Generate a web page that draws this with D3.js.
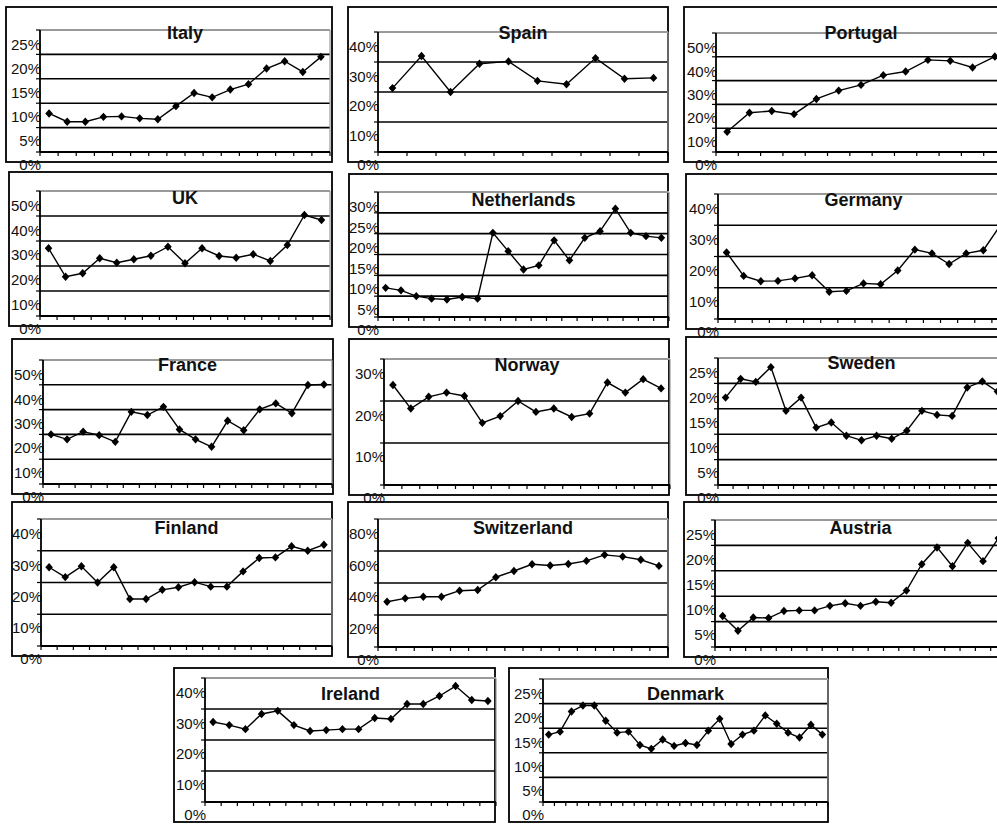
<!DOCTYPE html>
<html lang="en">
<head>
<meta charset="UTF-8">
<title>Country panels</title>
<script src="https://cdnjs.cloudflare.com/ajax/libs/d3/7.8.5/d3.min.js"></script>
<style>
  body { margin: 0; background: #fff; font-family: "Liberation Sans", Arial, sans-serif; }
  svg { display: block; }
  .title { font-size: 18px; font-weight: bold; fill: #111; }
  .lbl { font-size: 15px; fill: #111; }
</style>
</head>
<body>
<script>
// values, one array per country
const countries = ["Italy", "Spain", "Portugal", "UK", "Netherlands", "Germany", "France",
                   "Norway", "Sweden", "Finland", "Switzerland", "Austria", "Ireland", "Denmark"];
const italy = [7.9, 6.2, 6.2, 7.2, 7.3, 6.9, 6.7, 9.4, 12.1, 11.2, 12.8, 13.9, 17.1, 18.6, 16.4, 19.5];
const spain = [21.3, 32.0, 20.0, 29.4, 30.2, 23.7, 22.6, 31.3, 24.4, 24.7];
const portugal = [8.5, 16.5, 17.2, 15.9, 22.3, 25.8, 28.2, 32.3, 33.8, 38.7, 38.3, 35.5, 40.1];
const uk = [27.1, 15.7, 17.1, 23.1, 21.3, 22.7, 24.1, 27.7, 21.1, 27.1, 24.0, 23.3, 24.7, 22.0, 28.4, 40.4, 38.4];
const netherlands = [7.0, 6.4, 5.0, 4.4, 4.2, 4.8, 4.4, 20.2, 15.8, 11.4, 12.4, 18.4, 13.6, 19.0, 20.6, 26.0, 20.2, 19.4, 19.0];
const germany = [21.3, 13.8, 12.1, 12.2, 13.0, 14.0, 8.7, 9.0, 11.4, 11.1, 15.5, 22.2, 21.0, 17.6, 21.0, 22.0, 30.0];
const france = [20.0, 18.0, 21.1, 19.7, 17.0, 29.1, 27.8, 31.1, 22.0, 18.0, 15.0, 25.5, 21.7, 30.1, 32.5, 28.5, 39.9, 40.1];
const norway = [23.8, 18.2, 21.0, 22.0, 21.2, 14.8, 16.4, 20.0, 17.4, 18.2, 16.2, 17.0, 24.4, 22.0, 25.2, 23.0];
const sweden = [17.2, 20.9, 20.3, 23.2, 14.6, 17.2, 11.3, 12.3, 9.7, 8.8, 9.7, 9.1, 10.7, 14.6, 13.8, 13.6, 19.2, 20.4, 18.4];
const finland = [24.8, 21.7, 25.1, 20.0, 24.8, 14.8, 14.8, 17.7, 18.5, 20.1, 18.7, 18.7, 23.5, 27.7, 27.9, 31.4, 30.0, 31.9];
const switzerland = [28.3, 30.4, 31.4, 31.4, 35.2, 35.6, 43.6, 47.5, 51.7, 50.9, 51.9, 53.8, 57.6, 56.5, 54.5, 50.7];
const austria = [6.1, 3.2, 5.8, 5.7, 7.1, 7.2, 7.2, 8.1, 8.6, 8.1, 8.9, 8.7, 11.1, 16.3, 19.6, 15.9, 20.5, 16.9, 21.4];
const ireland = [25.8, 24.8, 23.5, 28.4, 29.4, 24.8, 22.9, 23.2, 23.5, 23.5, 27.1, 26.8, 31.6, 31.6, 34.2, 37.4, 32.9, 32.6];
const denmark = [13.7, 14.3, 18.4, 19.6, 19.6, 16.5, 14.1, 14.3, 11.6, 10.8, 12.7, 11.4, 12.0, 11.6, 14.5, 16.9, 11.8, 13.7, 14.5, 17.6, 15.9, 14.1, 13.1, 15.7, 13.7];
const series = [italy, spain, portugal, uk, netherlands, germany, france,
                norway, sweden, finland, switzerland, austria, ireland, denmark];
const axisMax = [25, 40, 50, 50, 30, 40, 50, 30, 25, 40, 80, 25, 40, 25];
const axisStep = [5, 10, 10, 10, 5, 10, 10, 10, 5, 10, 20, 5, 10, 5];

// where each little chart sits: outer box, then plot area (left, top, right, bottom)
const layout = [
    { box: [6, 7, 326, 155],   plot: [40, 30, 330, 152] },
    { box: [348, 7, 320, 155], plot: [378, 32, 668, 152] },
    { box: [684, 7, 330, 155], plot: [716, 33, 1006, 152] },
    { box: [9, 172, 323, 154], plot: [40, 191, 330, 316] },
    { box: [349, 174, 319, 153], plot: [378, 192, 669, 317] },
    { box: [686, 174, 330, 155], plot: [718, 194, 1009, 319] },
    { box: [12, 339, 321, 155], plot: [43, 360, 332, 484] },
    { box: [349, 339, 320, 156], plot: [384, 359, 670, 485] },
    { box: [686, 337, 330, 158], plot: [718, 358, 1005, 485] },
    { box: [12, 502, 320, 154], plot: [41, 519, 332, 646] },
    { box: [348, 502, 320, 155], plot: [378, 519, 668, 647] },
    { box: [684, 502, 330, 155], plot: [715, 520, 1006, 647] },
    { box: [174, 668, 321, 154], plot: [205, 678, 496, 802] },
    { box: [509, 668, 319, 154], plot: [543, 679, 828, 802] }
];

const svg = d3.select("body").append("svg")
    .attr("width", 997)
    .attr("height", 827);

const diamond = "M0,-4.2L3.8,0L0,4.2L-3.8,0Z";
const pct = d => d + "%";

countries.forEach((name, i) => {
    const vals = series[i];
    const [bx, by, bw, bh] = layout[i].box;
    const [l, t, r, b] = layout[i].plot;
    const max = axisMax[i], step = axisStep[i];
    const g = svg.append("g");

    const x = d3.scaleBand().domain(d3.range(vals.length)).range([l, r]);
    const y = d3.scaleLinear().domain([0, max]).range([b, t]);
    // tick labels sit a bit lower than their gridlines in the original
    const yLabel = d3.scaleLinear().domain([0, max]).range([b + 13, t + 15]);
    const ticks = d3.range(0, max + step / 2, step);

    g.append("rect")
        .attr("x", bx).attr("y", by).attr("width", bw).attr("height", bh)
        .attr("fill", "none").attr("stroke", "#000").attr("stroke-width", 1.8);

    g.selectAll(".lbl").data(ticks).join("text")
        .attr("class", "lbl")
        .attr("x", l + 1)
        .attr("y", d => yLabel(d))
        .attr("dy", "0.35em")
        .attr("text-anchor", "end")
        .text(pct);

    // gridlines, the top one is grey
    g.selectAll(".grid").data(ticks.slice(1)).join("line")
        .attr("x1", l).attr("x2", r)
        .attr("y1", d => y(d)).attr("y2", d => y(d))
        .attr("stroke", d => d === max ? "#999" : "#000")
        .attr("stroke-width", d => d === max ? 2 : 1.6);

    g.append("line")
        .attr("x1", r).attr("x2", r).attr("y1", t).attr("y2", b)
        .attr("stroke", "#999").attr("stroke-width", 1.2);

    // y axis with small ticks
    g.append("line")
        .attr("x1", l).attr("x2", l).attr("y1", t).attr("y2", b)
        .attr("stroke", "#000").attr("stroke-width", 1.8);
    g.selectAll(".ytick").data(ticks).join("line")
        .attr("x1", l - 4).attr("x2", l)
        .attr("y1", d => y(d)).attr("y2", d => y(d))
        .attr("stroke", "#000").attr("stroke-width", 1.2);

    // x axis, ticks between categories
    g.append("line")
        .attr("x1", l).attr("x2", r).attr("y1", b).attr("y2", b)
        .attr("stroke", "#000").attr("stroke-width", 1.8);
    g.selectAll(".xtick").data(d3.range(vals.length + 1)).join("line")
        .attr("x1", k => l + k * x.step()).attr("x2", k => l + k * x.step())
        .attr("y1", b).attr("y2", b + 4)
        .attr("stroke", "#000").attr("stroke-width", 1.2);

    const cx = k => x(k) + x.bandwidth() / 2;
    g.append("path")
        .datum(vals)
        .attr("fill", "none")
        .attr("stroke", "#000")
        .attr("stroke-width", 1.4)
        .attr("d", d3.line().x((d, k) => cx(k)).y(d => y(d)));

    g.selectAll(".pt").data(vals).join("path")
        .attr("d", diamond)
        .attr("transform", (d, k) => `translate(${cx(k)},${y(d)})`)
        .attr("fill", "#000");

    g.append("text")
        .attr("class", "title")
        .attr("x", (l + r) / 2)
        .attr("y", by + 32)
        .attr("text-anchor", "middle")
        .text(name);
});
</script>
</body>
</html>
